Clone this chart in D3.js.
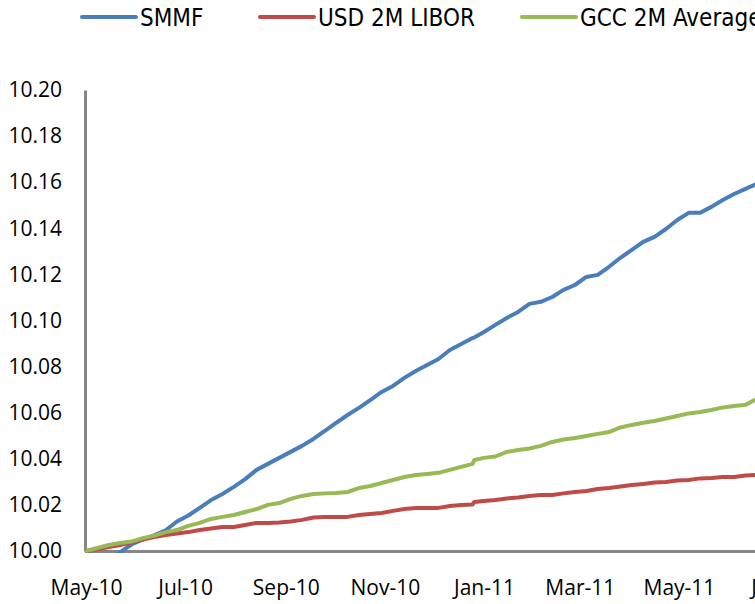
<!DOCTYPE html>
<html>
<head>
<meta charset="utf-8">
<script src="https://cdn.jsdelivr.net/npm/d3@7/dist/d3.min.js"></script>
<style>
  html, body { margin: 0; padding: 0; background: #fff; }
  svg { display: block; }
  .tick text { font-family: "Open Sans", "Noto Sans", sans-serif; font-size: 21px; fill: #000; }
  .legend text { font-family: "Liberation Sans Narrow", "DejaVu Sans Condensed", sans-serif; font-size: 24px; fill: #000; }
</style>
</head>
<body>
<div id="chart"></div>
<script>
// weekly observations (plus the year-end step)
const dates = [
  "2010-05-01", "2010-05-08", "2010-05-15", "2010-05-22", "2010-05-29",
  "2010-06-05", "2010-06-12", "2010-06-19", "2010-06-26", "2010-07-03",
  "2010-07-10", "2010-07-17", "2010-07-24", "2010-07-31", "2010-08-07",
  "2010-08-14", "2010-08-21", "2010-08-28", "2010-09-04", "2010-09-11",
  "2010-09-18", "2010-09-25", "2010-10-02", "2010-10-09", "2010-10-16",
  "2010-10-23", "2010-10-30", "2010-11-06", "2010-11-13", "2010-11-20",
  "2010-11-27", "2010-12-04", "2010-12-11", "2010-12-18", "2010-12-25",
  "2010-12-26", "2011-01-01", "2011-01-08", "2011-01-15", "2011-01-22",
  "2011-01-29", "2011-02-05", "2011-02-12", "2011-02-19", "2011-02-26",
  "2011-03-05", "2011-03-12", "2011-03-19", "2011-03-26", "2011-04-02",
  "2011-04-09", "2011-04-16", "2011-04-23", "2011-04-30", "2011-05-07",
  "2011-05-14", "2011-05-21", "2011-05-28", "2011-06-04", "2011-06-11",
  "2011-06-18", "2011-06-25"
];

const smmf = [
  10.0000, 9.9970, 9.9960, 9.9995, 10.0028,
  10.0050, 10.0068, 10.0090, 10.0128, 10.0154,
  10.0187, 10.0221, 10.0247, 10.0278, 10.0312,
  10.0352, 10.0378, 10.0404, 10.0430, 10.0456,
  10.0486, 10.0521, 10.0556, 10.0590, 10.0621,
  10.0655, 10.0690, 10.0716, 10.0751, 10.0781,
  10.0807, 10.0833, 10.0872, 10.0898, 10.0924,
  10.0926, 10.0950, 10.0981, 10.1011, 10.1037,
  10.1072, 10.1081, 10.1102, 10.1133, 10.1154,
  10.1189, 10.1198, 10.1233, 10.1272, 10.1306,
  10.1341, 10.1363, 10.1397, 10.1436, 10.1467,
  10.1467, 10.1493, 10.1523, 10.1549, 10.1571,
  10.1593, 10.1610
];

const libor = [
  10.0000, 10.0007, 10.0017, 10.0026, 10.0037,
  10.0050, 10.0061, 10.0069, 10.0076, 10.0082,
  10.0091, 10.0098, 10.0104, 10.0104, 10.0113,
  10.0122, 10.0122, 10.0124, 10.0128, 10.0135,
  10.0145, 10.0148, 10.0148, 10.0148, 10.0156,
  10.0161, 10.0165, 10.0174, 10.0182, 10.0187,
  10.0187, 10.0187, 10.0195, 10.0200, 10.0202,
  10.0213, 10.0217, 10.0221, 10.0228, 10.0232,
  10.0239, 10.0243, 10.0243, 10.0250, 10.0256,
  10.0260, 10.0269, 10.0273, 10.0280, 10.0286,
  10.0291, 10.0297, 10.0299, 10.0306, 10.0308,
  10.0315, 10.0317, 10.0321, 10.0321, 10.0328,
  10.0330, 10.0332
];

const gcc = [
  10.0000, 10.0013, 10.0026, 10.0035, 10.0041,
  10.0056, 10.0067, 10.0082, 10.0091, 10.0109,
  10.0122, 10.0139, 10.0148, 10.0156, 10.0169,
  10.0182, 10.0200, 10.0208, 10.0226, 10.0239,
  10.0247, 10.0250, 10.0252, 10.0256, 10.0273,
  10.0282, 10.0295, 10.0308, 10.0321, 10.0330,
  10.0334, 10.0339, 10.0352, 10.0365, 10.0378,
  10.0395, 10.0404, 10.0410, 10.0430, 10.0438,
  10.0445, 10.0456, 10.0473, 10.0484, 10.0490,
  10.0499, 10.0508, 10.0516, 10.0536, 10.0547,
  10.0556, 10.0564, 10.0575, 10.0586, 10.0597,
  10.0603, 10.0612, 10.0623, 10.0629, 10.0634,
  10.0660, 10.0673
];

const seriesNames = ["SMMF", "USD 2M LIBOR", "GCC 2M Average"];
const seriesColors = ["#4A7EBB", "#BE4B48", "#98B954"];

const yTicks = [10.00, 10.02, 10.04, 10.06, 10.08, 10.10, 10.12, 10.14, 10.16, 10.18, 10.20];
const xTickDates = ["2010-05-01", "2010-07-01", "2010-09-01", "2010-11-01", "2011-01-01", "2011-03-01", "2011-05-01", "2011-07-01"];
const xTickLabels = ["May-10", "Jul-10", "Sep-10", "Nov-10", "Jan-11", "Mar-11", "May-11", "Jul-11"];

const width = 755, height = 604;
const margin = {top: 90, left: 86, bottom: 53};
const plotRight = 778;   // the plot runs past the right edge of the window
const parse = d3.timeParse("%Y-%m-%d");

const x = d3.scaleTime()
    .domain([parse(xTickDates[0]), parse(xTickDates[xTickDates.length - 1])])
    .range([margin.left, plotRight]);
const y = d3.scaleLinear()
    .domain([10.00, 10.20])
    .range([height - margin.bottom, margin.top]);

const svg = d3.select("#chart").append("svg")
    .attr("width", width)
    .attr("height", height);

svg.append("defs").append("clipPath").attr("id", "plot")
  .append("rect")
    .attr("x", margin.left - 2).attr("y", margin.top - 2)
    .attr("width", plotRight - margin.left + 4)
    .attr("height", y(10.00) - margin.top + 4);

// axes
const yAxis = d3.axisLeft(y)
    .tickValues(yTicks)
    .tickFormat(d3.format(".2f"))
    .tickSizeInner(0).tickSizeOuter(0).tickPadding(23);

svg.append("g")
    .attr("class", "y axis")
    .attr("transform", "translate(" + (margin.left - 1) + ",0)")
    .call(yAxis);

const xAxis = d3.axisBottom(x)
    .tickValues(xTickDates.map(parse))
    .tickFormat((d, i) => xTickLabels[i])
    .tickSizeInner(0).tickSizeOuter(0);

svg.append("g")
    .attr("class", "x axis")
    .attr("transform", "translate(0," + y(10.00) + ")")
    .call(xAxis)
    .selectAll("text")
    .attr("y", 44)
    .attr("dy", null);

svg.selectAll(".axis .domain")
    .attr("stroke", "#868686")
    .attr("stroke-width", 3);

// lines
const rows = dates.map((d, i) => ({date: parse(d), values: [smmf[i], libor[i], gcc[i]]}));

seriesNames.forEach((name, k) => {
    const line = d3.line()
        .x(d => x(d.date))
        .y(d => y(d.values[k]));
    svg.append("path")
        .datum(rows)
        .attr("clip-path", "url(#plot)")
        .attr("fill", "none")
        .attr("stroke", seriesColors[k])
        .attr("stroke-width", 4)
        .attr("stroke-linejoin", "round")
        .attr("d", line);
});

// legend
const legendX = [82, 260, 522];
const legend = svg.append("g").attr("class", "legend");
seriesNames.forEach((name, k) => {
    legend.append("line")
        .attr("x1", legendX[k]).attr("x2", legendX[k] + 54)
        .attr("y1", 17).attr("y2", 17)
        .attr("stroke", seriesColors[k])
        .attr("stroke-width", 4)
        .attr("stroke-linecap", "round");
    legend.append("text")
        .attr("x", legendX[k] + 58)
        .attr("y", 26)
        .text(name);
});
</script>
</body>
</html>
